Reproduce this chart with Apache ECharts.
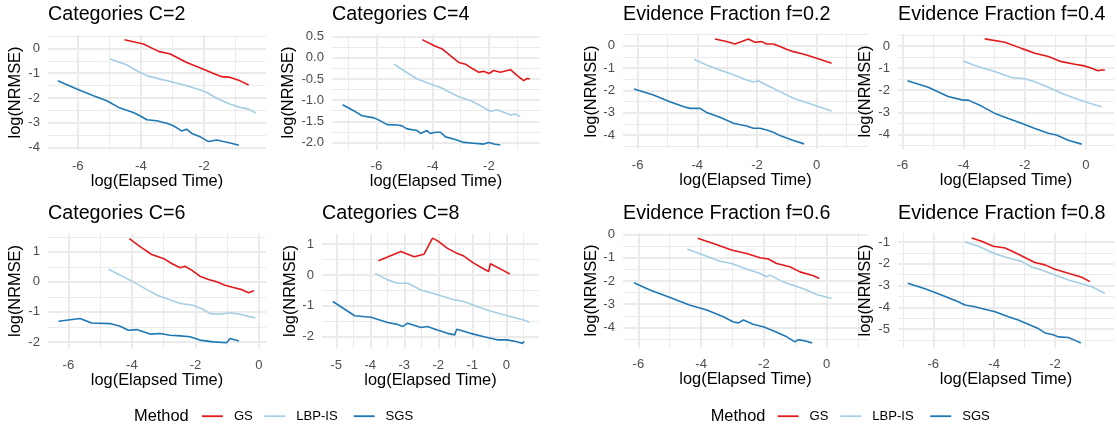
<!DOCTYPE html>
<html>
<head>
<meta charset="utf-8">
<script src="https://cdn.jsdelivr.net/npm/echarts@6/dist/echarts.min.js"></script>
<style>
  html, body { margin: 0; padding: 0; background: #fff; }
  #chart { width: 1117px; height: 431px; }
</style>
</head>
<body>
<div id="chart"></div>
<script>
// methods and colours
const methods = ['GS', 'LBP-IS', 'SGS']
const colors = ['#E31A1C', '#A6CEE3', '#1F78B4']

// Categories C=2
const c2GS = [[-4.52, 0.35], [-3.92, 0.18], [-3.44, -0.12], [-3.07, -0.23], [-2.55, -0.57], [-2.02, -0.84], [-1.70, -1.01], [-1.44, -1.14], [-1.17, -1.17], [-0.86, -1.31], [-0.59, -1.48]]
const c2LBP = [[-4.98, -0.43], [-4.45, -0.66], [-4.13, -0.90], [-3.81, -1.10], [-3.39, -1.24], [-2.97, -1.37], [-2.55, -1.51], [-2.12, -1.68], [-1.91, -1.78], [-1.60, -2.01], [-1.17, -2.25], [-0.86, -2.38], [-0.59, -2.45], [-0.36, -2.61]]
const c2SGS = [[-6.63, -1.31], [-6.03, -1.64], [-5.50, -1.91], [-5.08, -2.11], [-4.66, -2.41], [-4.24, -2.59], [-4.03, -2.72], [-3.81, -2.88], [-3.50, -2.92], [-3.18, -3.02], [-2.97, -3.12], [-2.71, -3.33], [-2.55, -3.26], [-2.39, -3.43], [-2.12, -3.57], [-1.86, -3.76], [-1.60, -3.70], [-1.39, -3.76], [-1.17, -3.82], [-0.90, -3.91]]

// Categories C=4
const c4GS = [[-4.37, 0.43], [-3.96, 0.29], [-3.66, 0.21], [-3.37, 0.05], [-3.07, -0.11], [-2.83, -0.15], [-2.65, -0.23], [-2.36, -0.34], [-2.18, -0.32], [-2.00, -0.37], [-1.82, -0.30], [-1.59, -0.34], [-1.35, -0.30], [-1.23, -0.28], [-0.99, -0.42], [-0.76, -0.54], [-0.64, -0.49], [-0.54, -0.50]]
const c4LBP = [[-5.38, -0.15], [-5.03, -0.30], [-4.55, -0.50], [-4.08, -0.62], [-3.72, -0.70], [-3.37, -0.82], [-3.01, -0.94], [-2.65, -1.01], [-2.30, -1.13], [-1.94, -1.27], [-1.71, -1.23], [-1.47, -1.29], [-1.23, -1.35], [-1.05, -1.33], [-0.88, -1.39]]
const c4SGS = [[-7.20, -1.11], [-6.81, -1.25], [-6.51, -1.37], [-6.09, -1.42], [-5.86, -1.49], [-5.62, -1.58], [-5.26, -1.59], [-5.09, -1.61], [-4.91, -1.68], [-4.55, -1.72], [-4.43, -1.79], [-4.20, -1.72], [-4.08, -1.79], [-3.90, -1.76], [-3.72, -1.76], [-3.54, -1.87], [-3.25, -1.92], [-2.89, -2.00], [-2.54, -2.02], [-2.18, -2.04], [-2.00, -2.00], [-1.82, -2.04], [-1.59, -2.06]]

// Categories C=6
const c6GS = [[-4.08, 1.44], [-3.74, 1.17], [-3.38, 0.91], [-3.01, 0.78], [-2.75, 0.61], [-2.48, 0.47], [-2.33, 0.52], [-2.12, 0.39], [-1.86, 0.19], [-1.59, 0.08], [-1.33, 0.00], [-1.07, -0.11], [-0.81, -0.19], [-0.54, -0.26], [-0.33, -0.36], [-0.16, -0.30]]
const c6LBP = [[-4.73, 0.42], [-4.37, 0.22], [-3.95, 0.00], [-3.53, -0.26], [-3.22, -0.44], [-2.90, -0.56], [-2.48, -0.72], [-2.07, -0.78], [-1.75, -0.92], [-1.54, -1.06], [-1.23, -1.08], [-0.91, -1.03], [-0.60, -1.08], [-0.12, -1.20]]
const c6SGS = [[-6.31, -1.31], [-5.63, -1.22], [-5.27, -1.37], [-4.69, -1.39], [-4.37, -1.48], [-4.11, -1.61], [-3.85, -1.59], [-3.43, -1.74], [-3.11, -1.72], [-2.80, -1.78], [-2.48, -1.80], [-2.17, -1.83], [-1.86, -1.94], [-1.44, -2.00], [-1.02, -2.03], [-0.91, -1.89], [-0.63, -1.97]]

// Categories C=8
const c8GS = [[-3.76, 0.46], [-3.10, 0.76], [-2.71, 0.59], [-2.42, 0.67], [-2.17, 1.19], [-2.03, 1.11], [-1.73, 0.86], [-1.49, 0.72], [-1.25, 0.61], [-0.96, 0.38], [-0.66, 0.19], [-0.52, 0.11], [-0.47, 0.36], [-0.27, 0.25], [-0.08, 0.14], [0.10, 0.03]]
const c8LBP = [[-3.86, 0.05], [-3.49, -0.16], [-3.20, -0.27], [-2.90, -0.27], [-2.51, -0.49], [-2.12, -0.61], [-1.78, -0.72], [-1.59, -0.79], [-1.25, -0.86], [-0.86, -1.02], [-0.47, -1.17], [-0.08, -1.29], [0.31, -1.40], [0.51, -1.46], [0.68, -1.53]]
const c8SGS = [[-5.10, -0.86], [-4.46, -1.32], [-3.98, -1.37], [-3.49, -1.54], [-3.20, -1.60], [-3.05, -1.67], [-2.90, -1.56], [-2.51, -1.70], [-2.32, -1.67], [-2.03, -1.78], [-1.73, -1.89], [-1.52, -1.94], [-1.46, -1.76], [-1.05, -1.89], [-0.66, -2.00], [-0.27, -2.10], [0.02, -2.10], [0.31, -2.16], [0.46, -2.21], [0.53, -2.16]]

// Evidence Fraction f=0.2
const f2GS = [[-3.41, 0.30], [-3.02, 0.18], [-2.74, 0.07], [-2.51, 0.18], [-2.29, 0.30], [-2.07, 0.15], [-1.84, 0.18], [-1.68, 0.07], [-1.45, 0.07], [-1.23, -0.04], [-1.01, -0.16], [-0.78, -0.27], [-0.56, -0.34], [-0.34, -0.42], [0.00, -0.57], [0.50, -0.79]]
const f2LBP = [[-4.11, -0.61], [-3.69, -0.87], [-3.24, -1.09], [-2.79, -1.31], [-2.35, -1.54], [-2.12, -1.63], [-1.96, -1.57], [-1.68, -1.76], [-1.23, -2.06], [-0.78, -2.36], [-0.34, -2.55], [0.00, -2.70], [0.50, -2.93]]
const f2SGS = [[-6.12, -1.94], [-5.47, -2.21], [-4.92, -2.51], [-4.47, -2.73], [-4.25, -2.81], [-3.91, -2.81], [-3.69, -2.99], [-3.24, -3.21], [-2.79, -3.48], [-2.35, -3.60], [-2.12, -3.70], [-1.90, -3.70], [-1.68, -3.78], [-1.45, -3.88], [-1.23, -4.03], [-0.78, -4.25], [-0.42, -4.40]]

// Evidence Fraction f=0.4
const f4GS = [[-3.31, 0.32], [-2.65, 0.17], [-2.11, -0.11], [-1.67, -0.33], [-1.23, -0.48], [-0.80, -0.71], [-0.36, -0.83], [-0.09, -0.89], [0.19, -1.01], [0.40, -1.12], [0.51, -1.09], [0.62, -1.09]]
const f4LBP = [[-4.02, -0.68], [-3.52, -0.94], [-2.98, -1.16], [-2.43, -1.43], [-2.00, -1.48], [-1.67, -1.62], [-1.23, -1.87], [-0.80, -2.14], [-0.36, -2.37], [0.07, -2.57], [0.51, -2.75]]
const f4SGS = [[-5.84, -1.57], [-5.16, -1.87], [-4.51, -2.29], [-4.02, -2.45], [-3.85, -2.45], [-3.42, -2.72], [-2.98, -3.05], [-2.54, -3.28], [-2.11, -3.50], [-1.67, -3.73], [-1.23, -3.95], [-0.96, -4.03], [-0.58, -4.26], [-0.14, -4.44]]

// Evidence Fraction f=0.6
const f6GS = [[-4.11, -0.17], [-3.61, -0.39], [-3.03, -0.67], [-2.55, -0.82], [-2.12, -1.00], [-1.86, -1.06], [-1.59, -1.25], [-1.17, -1.39], [-0.85, -1.61], [-0.42, -1.78], [-0.23, -1.89]]
const f6LBP = [[-4.44, -0.63], [-3.93, -0.89], [-3.40, -1.15], [-3.03, -1.25], [-2.55, -1.49], [-2.12, -1.68], [-1.91, -1.82], [-1.81, -1.75], [-1.38, -2.04], [-1.06, -2.18], [-0.64, -2.39], [-0.32, -2.58], [0.16, -2.75]]
const f6SGS = [[-6.14, -2.08], [-5.63, -2.39], [-4.99, -2.71], [-4.35, -3.04], [-3.82, -3.25], [-3.29, -3.54], [-2.97, -3.76], [-2.81, -3.80], [-2.65, -3.68], [-2.34, -3.86], [-2.02, -3.97], [-1.70, -4.14], [-1.27, -4.40], [-1.01, -4.62], [-0.90, -4.52], [-0.64, -4.59], [-0.46, -4.66]]

// Evidence Fraction f=0.8
const f8GS = [[-4.74, -0.82], [-4.41, -0.97], [-4.03, -1.20], [-3.64, -1.28], [-3.32, -1.48], [-2.99, -1.71], [-2.66, -1.94], [-2.33, -2.05], [-2.00, -2.25], [-1.56, -2.43], [-1.12, -2.62], [-0.85, -2.82]]
const f8LBP = [[-4.96, -1.00], [-4.52, -1.20], [-3.97, -1.54], [-3.53, -1.74], [-3.10, -1.89], [-2.77, -2.15], [-2.44, -2.28], [-2.00, -2.51], [-1.56, -2.74], [-1.12, -2.92], [-0.79, -3.05], [-0.36, -3.35]]
const f8SGS = [[-6.84, -2.89], [-6.27, -3.15], [-5.73, -3.43], [-5.18, -3.74], [-4.96, -3.89], [-4.63, -3.97], [-4.41, -4.05], [-3.97, -4.20], [-3.53, -4.43], [-3.21, -4.58], [-2.88, -4.77], [-2.55, -4.97], [-2.33, -5.17], [-2.06, -5.25], [-1.89, -5.35], [-1.56, -5.38], [-1.34, -5.51], [-1.15, -5.63]]

// tick labels
const xTicksA = [-6, -4, -2]
const xTicksB = [-6, -4, -2, 0]
const xTicksC8 = [-5, -4, -3, -2, -1, 0]
const yTicks04 = [0, -1, -2, -3, -4]
const yTicksC4 = [0.5, 0, -0.5, -1, -1.5, -2]
const yTicksC6 = [1, 0, -1, -2]
const yTicksF8 = [-1, -2, -3, -4, -5]

const FONT = "'Liberation Sans', Arial, Helvetica, sans-serif"
const GRID = '#EBEBEB'

// layout of each panel: box = [left, top, width, height]
const panels = [
  { title: 'Categories C=2', lines: [c2GS, c2LBP, c2SGS], xt: xTicksA, yt: yTicks04, xr: [-6.94, -0.04], yr: [-4.10, 0.54], dec: 0, box: [48, 35, 218, 115], yGap: 25, tTop: 4.3 },
  { title: 'Categories C=4', lines: [c4GS, c4LBP, c4SGS], xt: xTicksA, yt: yTicksC4, xr: [-7.58, -0.18], yr: [-2.18, 0.54], dec: 1, box: [332, 35, 208, 115], yGap: 35.5, tTop: 4.3 },
  { title: 'Evidence Fraction f=0.2', lines: [f2GS, f2LBP, f2SGS], xt: xTicksB, yt: yTicks04, xr: [-6.49, 1.72], yr: [-4.63, 0.52], dec: 0, box: [623, 34, 245, 115], yGap: 21.5, tTop: 4.3 },
  { title: 'Evidence Fraction f=0.4', lines: [f4GS, f4LBP, f4SGS], xt: xTicksB, yt: yTicks04, xr: [-6.15, 0.92], yr: [-4.66, 0.54], dec: 0, box: [898, 34, 216, 115], yGap: 25, tTop: 4.3 },
  { title: 'Categories C=6', lines: [c6GS, c6LBP, c6SGS], xt: xTicksB, yt: yTicksC6, xr: [-6.64, 0.22], yr: [-2.22, 1.61], dec: 0, box: [48, 233.5, 218, 115], yGap: 25, tTop: 203.5 },
  { title: 'Categories C=8', lines: [c8GS, c8LBP, c8SGS], xt: xTicksC8, yt: yTicksC6, xr: [-5.42, 0.96], yr: [-2.38, 1.34], dec: 0, box: [322, 233.5, 217, 115], yGap: 24, tTop: 203.5 },
  { title: 'Evidence Fraction f=0.6', lines: [f6GS, f6LBP, f6SGS], xt: xTicksB, yt: yTicks04, xr: [-6.49, 1.32], yr: [-4.88, 0.06], dec: 0, box: [623, 233, 245, 115], yGap: 22, tTop: 203.5 },
  { title: 'Evidence Fraction f=0.8', lines: [f8GS, f8LBP, f8SGS], xt: xTicksA, yt: yTicksF8, xr: [-7.16, -0.06], yr: [-5.86, -0.59], dec: 0, box: [898, 233, 216, 115], yGap: 25, tTop: 203.5 }
]

// legend rows: heading x, key x for each method
const legendRows = [
  { head: 134, keys: [201, 263.3, 352.7] },
  { head: 710.7, keys: [776.7, 839.3, 929.3] }
]
const legendY = 416.7

function minorOf (ticks, range) {
  const step = Math.abs(ticks[1] - ticks[0])
  const out = []
  ticks.forEach(t => {
    [t - step / 2, t + step / 2].forEach(m => {
      if (m >= range[0] && m <= range[1] && out.indexOf(m) < 0 && ticks.indexOf(m) < 0) out.push(m)
    })
  })
  return out
}

const grid = []
const xAxis = []
const yAxis = []
const series = []
const title = []

panels.forEach((p, i) => {
  grid.push({ left: p.box[0], top: p.box[1], width: p.box[2], height: p.box[3], containLabel: false, outerBoundsMode: 'none' })
  title.push({
    text: p.title, left: p.box[0], top: p.tTop, padding: 0,
    textStyle: { fontFamily: FONT, fontSize: 19.7, fontWeight: 'normal', color: '#000' }
  })
  // major x axis
  xAxis.push({
    gridIndex: i, type: 'value', min: p.xr[0], max: p.xr[1], position: 'bottom',
    name: 'log(Elapsed Time)', nameLocation: 'middle', nameGap: 21,
    nameTextStyle: { fontFamily: FONT, fontSize: 16.4, color: '#000' },
    axisLine: { show: false, onZero: false },
    axisTick: { show: false, customValues: p.xt },
    axisLabel: { customValues: p.xt, margin: 10, fontFamily: FONT, fontSize: 13.1, color: '#4D4D4D', formatter: v => String(v) },
    splitLine: { show: true, lineStyle: { color: GRID, width: 2 } },
    z: 1
  })
  // minor x axis (grid lines only)
  xAxis.push({
    gridIndex: i, type: 'value', min: p.xr[0], max: p.xr[1], position: 'top',
    axisLine: { show: false, onZero: false },
    axisTick: { show: false, customValues: minorOf(p.xt, p.xr) },
    axisLabel: { show: false },
    splitLine: { show: true, lineStyle: { color: GRID, width: 1 } },
    z: 0
  })
  yAxis.push({
    gridIndex: i, type: 'value', min: p.yr[0], max: p.yr[1], position: 'left',
    name: 'log(NRMSE)', nameLocation: 'middle', nameGap: p.yGap, nameRotate: 90,
    nameTextStyle: { fontFamily: FONT, fontSize: 16.4, color: '#000' },
    axisLine: { show: false, onZero: false },
    axisTick: { show: false, customValues: p.yt },
    axisLabel: { customValues: p.yt, margin: 8, fontFamily: FONT, fontSize: 13.1, color: '#4D4D4D', formatter: v => v.toFixed(p.dec) },
    splitLine: { show: true, lineStyle: { color: GRID, width: 2 } },
    z: 1
  })
  yAxis.push({
    gridIndex: i, type: 'value', min: p.yr[0], max: p.yr[1], position: 'right',
    axisLine: { show: false, onZero: false },
    axisTick: { show: false, customValues: minorOf(p.yt, p.yr) },
    axisLabel: { show: false },
    splitLine: { show: true, lineStyle: { color: GRID, width: 1 } },
    z: 0
  })
  p.lines.forEach((d, k) => {
    series.push({
      type: 'line', name: methods[k], data: d,
      xAxisIndex: i * 2, yAxisIndex: i * 2,
      symbol: 'none', showSymbol: false, smooth: false,
      color: colors[k],
      lineStyle: { color: colors[k], width: 1.6 },
      z: 3
    })
  })
})

const legend = []
legendRows.forEach(row => {
  title.push({
    text: 'Method', left: row.head, top: legendY - 8.2, padding: 0,
    textStyle: { fontFamily: FONT, fontSize: 16.4, fontWeight: 'normal', color: '#000' }
  })
  methods.forEach((m, k) => {
    legend.push({
      data: [m], left: row.keys[k], top: legendY - 7, padding: 0,
      itemWidth: 21, itemHeight: 14,
      itemStyle: { opacity: 0 },
      lineStyle: { width: 1.8 },
      textStyle: { fontFamily: FONT, fontSize: 13.1, color: '#000', padding: [0, 0, 0, 6] }
    })
  })
})

const chart = echarts.init(document.getElementById('chart'), null, { renderer: 'canvas' })
chart.setOption({
  animation: false,
  backgroundColor: '#fff',
  title,
  legend,
  grid,
  xAxis,
  yAxis,
  series
})
window.addEventListener('resize', () => {
  chart.resize()
})
</script>
</body>
</html>
